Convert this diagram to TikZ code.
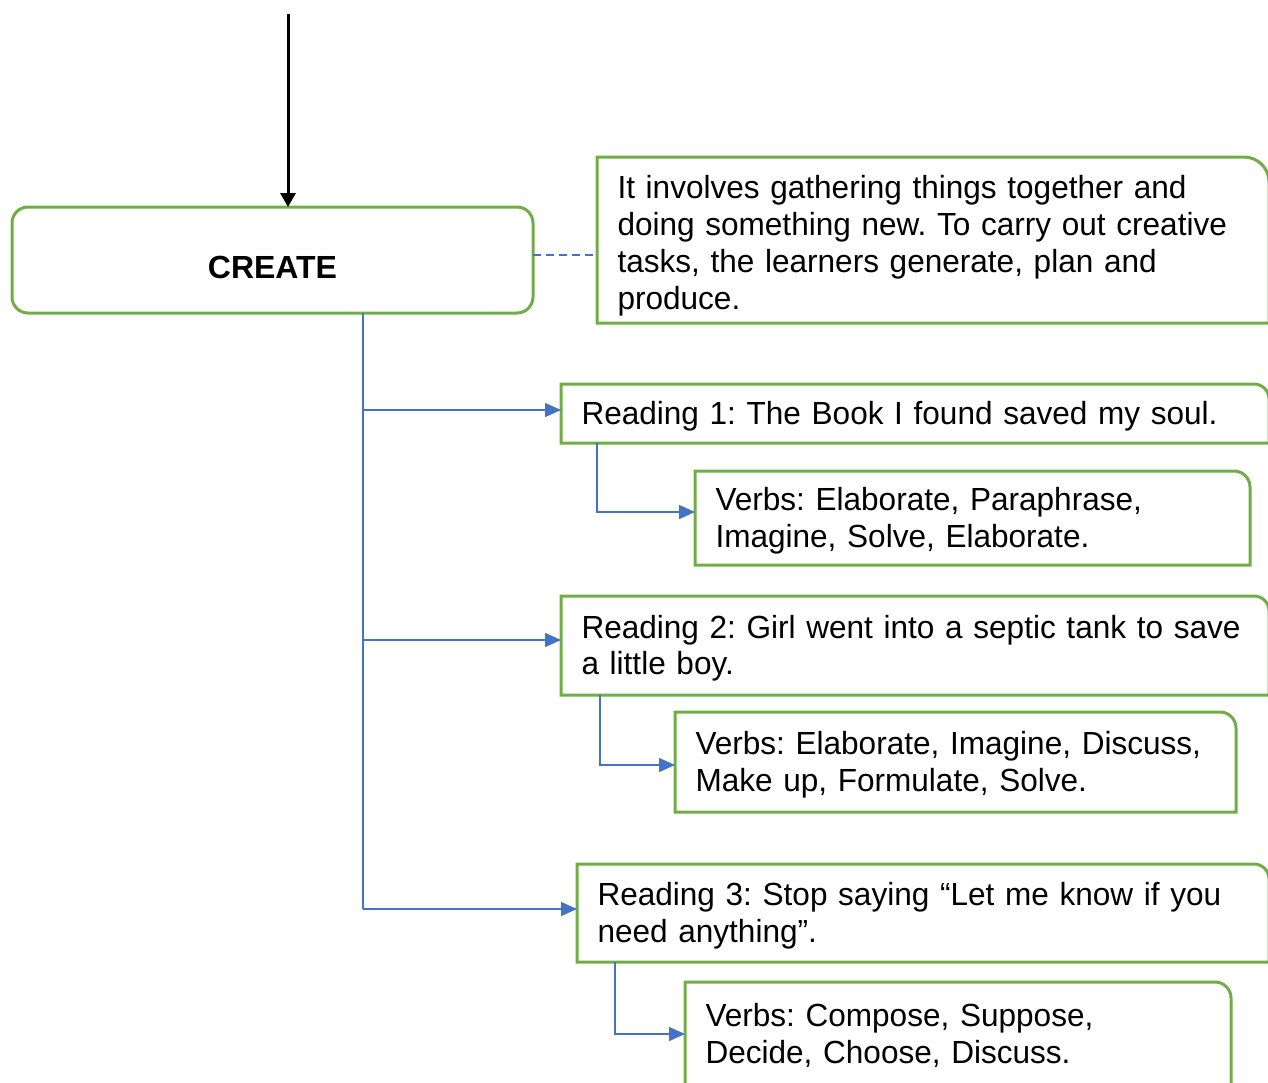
\documentclass[tikz,border=0pt]{standalone}
\usepackage{fontspec}
\setmainfont{Liberation Sans}[FakeStretch=0.986]
\newfontfamily\headfont{Liberation Sans}
\frenchspacing
\usetikzlibrary{arrows.meta,calc}
\definecolor{boxgreen}{HTML}{70AD47}
\definecolor{linkblue}{HTML}{4472C4}
% frame of a box whose top-right corner alone is rounded
\newcommand\cornerbox[2]{\draw[boxline] (#1.south west) -- (#1.north west) -- ([xshift=-#2]#1.north east) arc[start angle=90,end angle=0,radius=#2] -- (#1.south east) -- cycle;}
% full line strut, so every line box has the same height and depth
\newcommand\lnstrut{\rule[-7.4pt]{0pt}{36.8pt}}
\begin{document}
\begin{tikzpicture}[x=1pt,y=-1pt,
  boxline/.style={draw=boxgreen,line width=3pt},
  txt/.style={font=\fontsize{32}{36.8}\selectfont,
    align=left,anchor=north west,
    inner xsep=20.5pt,inner ysep=0pt,outer sep=0pt},
  link/.style={draw=linkblue,line width=1.5pt},
  arr/.style={link,-{Triangle[length=16pt,width=14pt]}},
  dashlink/.style={draw=linkblue,line width=2pt,dash pattern=on 8pt off 5pt},
  toparr/.style={draw=black,line width=3pt,-{Triangle[length=14pt,width=15pt]}}]
\useasboundingbox (0,0) rectangle (1268,1082);
\clip (0,0) rectangle (1268,1082);

% main box
\node[draw=boxgreen,line width=3pt,rounded corners=16pt,anchor=north west,
  minimum width=521pt,minimum height=106pt,outer sep=0pt,inner sep=0pt,
  text height=37pt,text depth=0pt,
  font=\headfont\fontsize{32}{36.8}\selectfont\bfseries] (create) at (12,207) {CREATE};

% description
\node[txt,text width=631pt,minimum height=166pt] (desc) at (597,157)
  {\rule[-7.4pt]{0pt}{42.8pt}It involves gathering things together and\\\lnstrut doing something new. To carry out creative\\\lnstrut tasks, the learners generate, plan and\\\lnstrut produce.};
\cornerbox{desc}{25pt}

% readings and their verbs
\node[txt,text width=667pt,minimum height=59pt] (r1) at (561,384)
  {\lnstrut Reading 1: The Book I found saved my soul.};
\cornerbox{r1}{15pt}
\node[txt,text width=514pt,minimum height=94pt] (v1) at (695,471)
  {\lnstrut Verbs: Elaborate, Paraphrase,\\\lnstrut Imagine, Solve, Elaborate.};
\cornerbox{v1}{16pt}

\node[txt,text width=667pt,minimum height=99pt] (r2) at (561,596)
  {\lnstrut Reading 2: Girl went into a septic tank to save\\\lnstrut a little boy.};
\cornerbox{r2}{15pt}
\node[txt,text width=520pt,minimum height=100pt] (v2) at (675,712)
  {\lnstrut Verbs: Elaborate, Imagine, Discuss,\\\lnstrut Make up, Formulate, Solve.};
\cornerbox{v2}{16pt}

\node[txt,text width=651pt,minimum height=98pt] (r3) at (577,864)
  {\lnstrut Reading 3: Stop saying “Let me know if you\\\lnstrut need anything”.};
\cornerbox{r3}{15pt}
\node[txt,text width=505pt,minimum height=104pt] (v3) at (685,982)
  {\lnstrut Verbs: Compose, Suppose,\\\lnstrut Decide, Choose, Discuss.};
\cornerbox{v3}{16pt}

% incoming arrow
\coordinate (src) at (288,14);
\draw[toparr] (src) -- (src |- create.north);

% dashed link to the description
\draw[dashlink] ([yshift=5pt]create.east) -- ([yshift=5pt]create.east -| desc.west);

% trunk and branches
\coordinate (tk1) at (363,410);
\coordinate (tk2) at (363,640);
\coordinate (tk3) at (363,909);
\draw[link] (create.south -| tk1) -- (tk3);
\draw[arr] (tk1) -- (tk1 -| r1.west);
\draw[arr] (tk2) -- (tk2 -| r2.west);
\draw[arr] (tk3) -- (tk3 -| r3.west);

% elbows to the verb boxes
\draw[arr] ([xshift=36pt]r1.south west) |- ([yshift=6pt]v1.west);
\draw[arr] ([xshift=39pt]r2.south west) |- ([yshift=-3pt]v2.west);
\draw[arr] ([xshift=38pt]r3.south west) |- (v3.west);
\end{tikzpicture}
\end{document}
